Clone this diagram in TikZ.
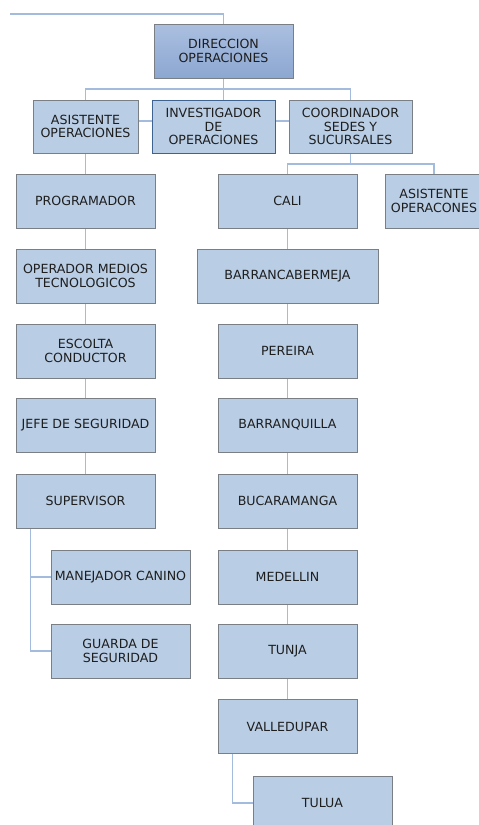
\documentclass[tikz,border=0pt]{standalone}
\usepackage{fontspec}
\setmainfont{DejaVu Sans}
\usetikzlibrary{backgrounds}
\definecolor{boxfill}{HTML}{B9CDE5}
\definecolor{boxedge}{HTML}{7A7F86}
\definecolor{linkc}{HTML}{A3BBDC}
\definecolor{txt}{HTML}{1E1E1E}
\definecolor{dirtop}{HTML}{ABBFE0}
\definecolor{dirbot}{HTML}{8CA7D1}
\definecolor{invedge}{HTML}{3F6391}
\tikzset{
  unit/.style={draw=boxedge, line width=0.9pt, fill=boxfill, text=txt, align=center,
    font=\fontsize{12.6}{13.2}\selectfont, inner sep=0pt, minimum width=139pt, minimum height=54pt},
  link/.style={draw=linkc, line width=1.6pt}
}
\begin{document}
\begin{tikzpicture}[x=1pt,y=-1pt]
\clip (0,0) rectangle (479,825);
\useasboundingbox (0,0) rectangle (479,825);
% top level
\node[unit, top color=dirtop, bottom color=dirbot, minimum height=54pt] (dir) at (223.5,51) {DIRECCION\\OPERACIONES};
\node[unit, minimum width=105pt, minimum height=53pt] (asis) at (85.5,126.5) {ASISTENTE\\OPERACIONES};
\node[unit, draw=invedge, minimum width=123pt, minimum height=53pt] (inv) at (213.5,126.5) {INVESTIGADOR\\DE\\OPERACIONES};
\node[unit, minimum width=123pt, minimum height=53pt] (coord) at (350.5,126.5) {COORDINADOR\\SEDES Y\\SUCURSALES};
% left column
\node[unit] (prog) at (85.5,201) {PROGRAMADOR};
\node[unit] (oper) at (85.5,276) {OPERADOR MEDIOS\\TECNOLOGICOS};
\node[unit] (esc) at (85.5,351) {ESCOLTA\\CONDUCTOR};
\node[unit] (jefe) at (85.5,425) {JEFE DE SEGURIDAD};
\node[unit] (sup) at (85.5,501) {SUPERVISOR};
\node[unit] (man) at (120.5,577) {MANEJADOR CANINO};
\node[unit] (guar) at (120.5,651) {GUARDA DE\\SEGURIDAD};
% right column
\node[unit] (cali) at (287.5,201) {CALI};
\node[unit, minimum width=98pt] (asop) at (434,201) {ASISTENTE\\OPERACONES};
\node[unit, minimum width=181pt] (barr) at (287.5,276) {BARRANCABERMEJA};
\node[unit] (per) at (287.5,351) {PEREIRA};
\node[unit] (baq) at (287.5,425) {BARRANQUILLA};
\node[unit] (buc) at (287.5,501) {BUCARAMANGA};
\node[unit] (med) at (287.5,577) {MEDELLIN};
\node[unit] (tun) at (287.5,651) {TUNJA};
\node[unit] (val) at (287.5,726.5) {VALLEDUPAR};
\node[unit] (tul) at (322.5,803) {TULUA};
% helper coordinates
\coordinate (tl) at (10,14);
\coordinate (hub1) at (223.5,89);
\coordinate (hub2) at (350.5,164);
\begin{scope}[on background layer]
\fill[white] (0,0) rectangle (479,825);
\draw[link] (tl) -| (dir.north);
\draw[link] (dir.south) -- (dir.south |- inv.north);
\draw[link] (asis.north) |- (hub1) -| (coord.north);
\draw[link] ([yshift=5.5pt]asis.east) -- ([yshift=5.5pt]inv.west);
\draw[link] ([yshift=5.5pt]inv.east) -- ([yshift=5.5pt]coord.west);
\draw[link] (asis.south) -- (prog.north);
\draw[link] (prog) -- (oper);
\draw[link] (oper) -- (esc);
\draw[link] (esc) -- (jefe);
\draw[link] (jefe) -- (sup);
\draw[link] ([xshift=15pt]sup.south west) |- (man.west);
\draw[link] ([xshift=15pt]sup.south west) |- (guar.west);
\draw[link] (coord.south) -- (hub2);
\draw[link] (cali.north) |- (hub2) -| (asop.north);
\draw[link] (cali) -- (barr);
\draw[link] (barr) -- (per);
\draw[link] (per) -- (baq);
\draw[link] (baq) -- (buc);
\draw[link] (buc) -- (med);
\draw[link] (med) -- (tun);
\draw[link] (tun) -- (val);
\draw[link] ([xshift=15pt]val.south west) |- (tul.west);
\end{scope}
\end{tikzpicture}
\end{document}
